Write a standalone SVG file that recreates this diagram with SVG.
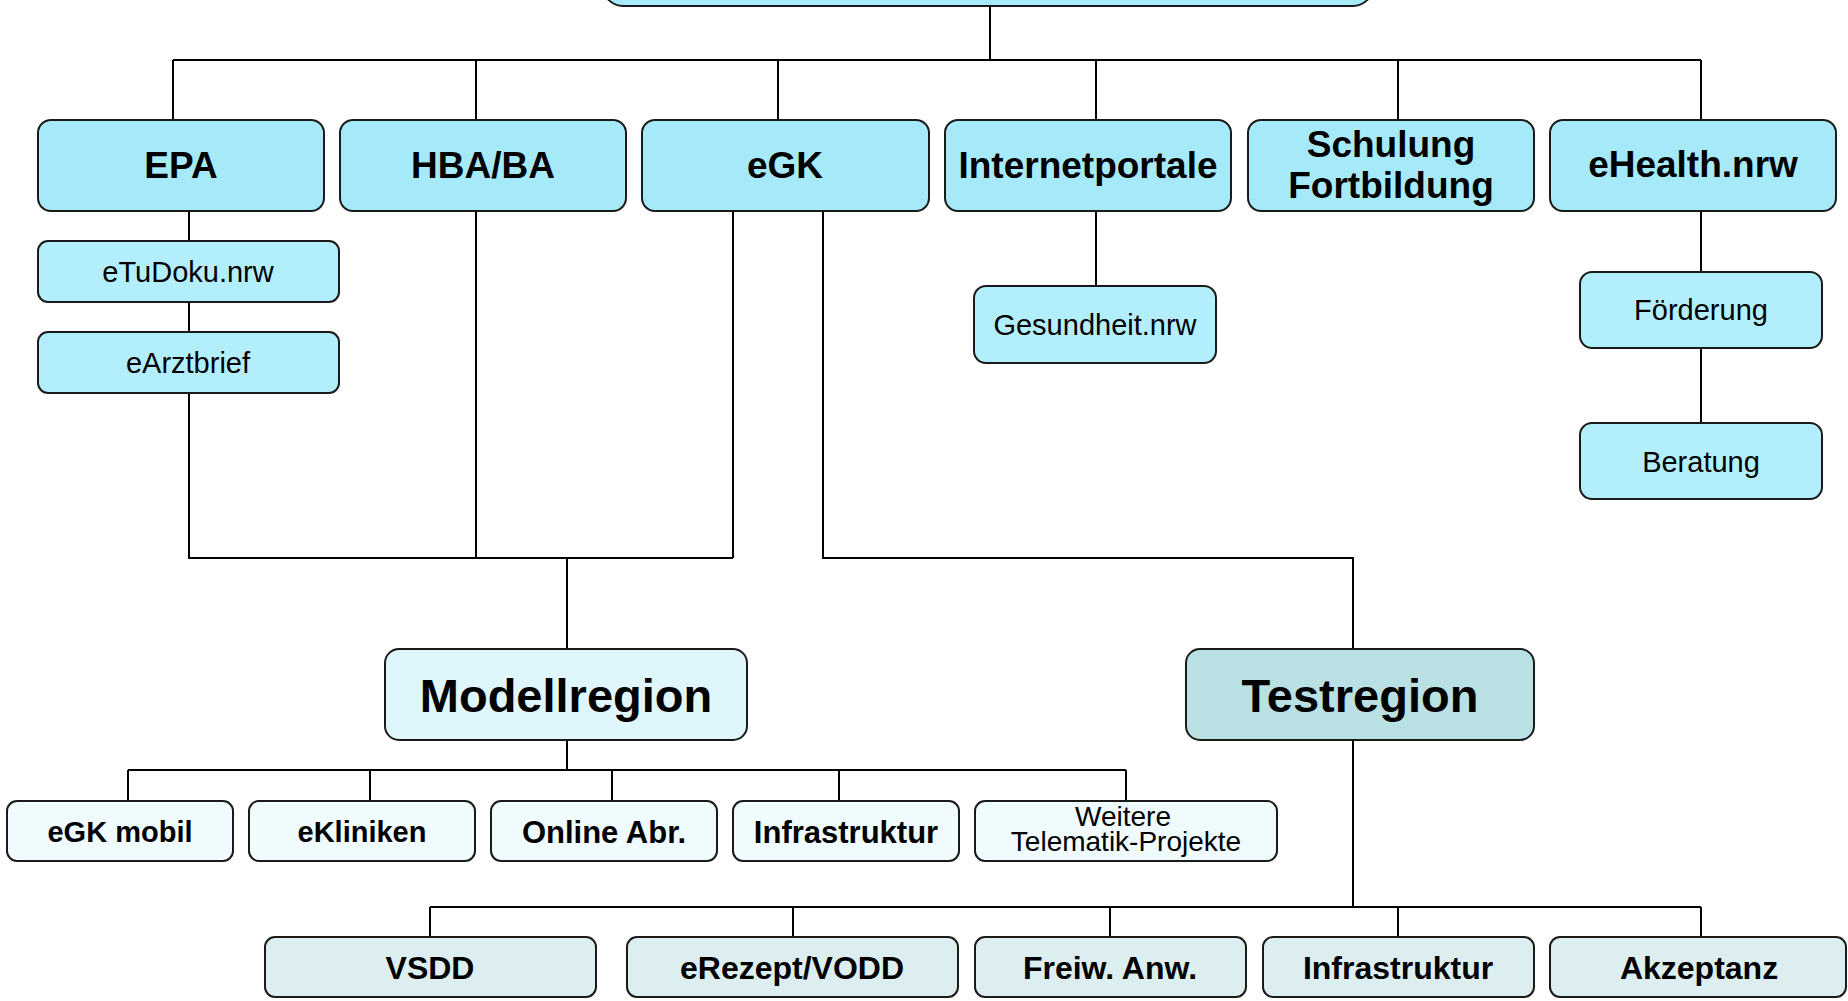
<svg xmlns="http://www.w3.org/2000/svg" width="1848" height="1001" viewBox="0 0 1848 1001">
<style>
.box{stroke:#1a1a1a;stroke-width:2}
.top{fill:#a6eafa}
.sub{fill:#b2eefb}
.mod{fill:#e0f6fd}
.modc{fill:#effbfd}
.test{fill:#b9e0e3}
.testc{fill:#dceef0}
text{font-family:"Liberation Sans",Arial,sans-serif;fill:#000;text-anchor:middle}
.b{font-weight:bold}
.t1{font-size:37px}
.t2{font-size:29px}
.t3{font-size:47px}
.t4{font-size:31px}
.t5{font-size:32px}
.t6{font-size:28px}
#connectors path{fill:none;stroke:#000;stroke-width:2}
</style>
<rect width="1848" height="1001" fill="#ffffff"/>
<g id="connectors">
<path d="M990 6V60M173 60H1701M173 60V120M476 60V120M778 60V120M1096 60V120M1398 60V120M1701 60V120"/>
<path d="M189 211V241M189 302V332M189 393V558H733M476 211V558M733 211V558M567 558V649"/>
<path d="M823 211V558H1353V649"/>
<path d="M1096 211V286M1701 211V272M1701 348V423"/>
<path d="M567 740V770M128 770H1126M128 770V801M370 770V801M612 770V801M839 770V801M1126 770V801"/>
<path d="M1353 740V907M430 907H1701M430 907V937M793 907V937M1110 907V937M1398 907V937M1701 907V937"/>
</g>
<g id="root"><rect class="box top" x="603" y="-60" width="770" height="66" rx="20"/></g>
<g id="epa"><rect class="box top" x="38" y="120" width="286" height="91" rx="13"/><text class="b t1" x="181" y="178">EPA</text></g>
<g id="hba"><rect class="box top" x="340" y="120" width="286" height="91" rx="13"/><text class="b t1" x="483" y="178">HBA/BA</text></g>
<g id="egk"><rect class="box top" x="642" y="120" width="287" height="91" rx="13"/><text class="b t1" x="785" y="178">eGK</text></g>
<g id="internetportale"><rect class="box top" x="945" y="120" width="286" height="91" rx="13"/><text class="b t1" x="1088" y="178">Internetportale</text></g>
<g id="schulung"><rect class="box top" x="1248" y="120" width="286" height="91" rx="13"/><text class="b t1" x="1391" y="157">Schulung</text><text class="b t1" x="1391" y="198">Fortbildung</text></g>
<g id="ehealth"><rect class="box top" x="1550" y="120" width="286" height="91" rx="13"/><text class="b t1" x="1693" y="177">eHealth.nrw</text></g>
<g id="etudoku"><rect class="box sub" x="38" y="241" width="301" height="61" rx="10"/><text class="t2" x="188" y="282">eTuDoku.nrw</text></g>
<g id="earztbrief"><rect class="box sub" x="38" y="332" width="301" height="61" rx="10"/><text class="t2" x="188" y="373">eArztbrief</text></g>
<g id="gesundheit"><rect class="box sub" x="974" y="286" width="242" height="77" rx="12"/><text class="t2" x="1095" y="335">Gesundheit.nrw</text></g>
<g id="foerderung"><rect class="box sub" x="1580" y="272" width="242" height="76" rx="12"/><text class="t2" x="1701" y="320">Förderung</text></g>
<g id="beratung"><rect class="box sub" x="1580" y="423" width="242" height="76" rx="12"/><text class="t2" x="1701" y="472">Beratung</text></g>
<g id="modellregion"><rect class="box mod" x="385" y="649" width="362" height="91" rx="14"/><text class="b t3" x="566" y="712">Modellregion</text></g>
<g id="testregion"><rect class="box test" x="1186" y="649" width="348" height="91" rx="14"/><text class="b t3" x="1360" y="712">Testregion</text></g>
<g id="egkmobil"><rect class="box modc" x="7" y="801" width="226" height="60" rx="10"/><text class="b t2" x="120" y="842">eGK mobil</text></g>
<g id="ekliniken"><rect class="box modc" x="249" y="801" width="226" height="60" rx="10"/><text class="b t2" x="362" y="842">eKliniken</text></g>
<g id="onlineabr"><rect class="box modc" x="491" y="801" width="226" height="60" rx="10"/><text class="b t4" x="604" y="843">Online Abr.</text></g>
<g id="infrastruktur1"><rect class="box modc" x="733" y="801" width="226" height="60" rx="10"/><text class="b t4" x="846" y="843">Infrastruktur</text></g>
<g id="weitere"><rect class="box modc" x="975" y="801" width="302" height="60" rx="10"/><text class="t6" x="1123" y="826">Weitere</text><text class="t6" x="1126" y="851">Telematik-Projekte</text></g>
<g id="vsdd"><rect class="box testc" x="265" y="937" width="331" height="60" rx="10"/><text class="b t5" x="430" y="979">VSDD</text></g>
<g id="erezept"><rect class="box testc" x="627" y="937" width="331" height="60" rx="10"/><text class="b t5" x="792" y="979">eRezept/VODD</text></g>
<g id="freiw"><rect class="box testc" x="975" y="937" width="271" height="60" rx="10"/><text class="b t5" x="1110" y="979">Freiw. Anw.</text></g>
<g id="infrastruktur2"><rect class="box testc" x="1263" y="937" width="271" height="60" rx="10"/><text class="b t5" x="1398" y="979">Infrastruktur</text></g>
<g id="akzeptanz"><rect class="box testc" x="1550" y="937" width="296" height="60" rx="10"/><text class="b t5" x="1699" y="979">Akzeptanz</text></g>
</svg>
